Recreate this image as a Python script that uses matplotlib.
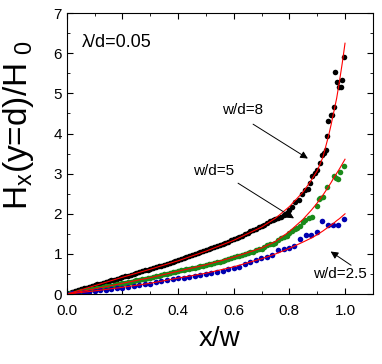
import numpy as np
import matplotlib
matplotlib.use('Agg')
import matplotlib.pyplot as plt
from matplotlib.ticker import MultipleLocator

plt.rcParams['font.family'] = ['Liberation Sans', 'DejaVu Sans']
plt.rcParams['mathtext.fontset'] = 'custom'
plt.rcParams['mathtext.rm'] = 'Liberation Sans'

# measured points, w/d = 8 (black)
x8 = list(np.round(np.arange(0, 0.80, 0.01), 2)) + [
    0.798, 0.81, 0.821, 0.833, 0.845, 0.857, 0.866, 0.873, 0.883, 0.893, 0.899,
    0.909, 0.917, 0.926, 0.931, 0.934, 0.94, 0.948, 0.954, 0.961, 0.965, 0.971,
    0.98, 0.984, 0.99, 0.996]
y8 = [0.02, 0.04, 0.06, 0.08, 0.10, 0.12, 0.14, 0.16, 0.18, 0.20,
      0.22, 0.24, 0.26, 0.28, 0.30, 0.32, 0.34, 0.36, 0.38, 0.40,
      0.42, 0.44, 0.46, 0.48, 0.50, 0.53, 0.55, 0.57, 0.59, 0.61,
      0.63, 0.65, 0.67, 0.69, 0.71, 0.73, 0.76, 0.78, 0.80, 0.83,
      0.85, 0.87, 0.90, 0.92, 0.94, 0.97, 0.99, 1.02, 1.04, 1.07,
      1.09, 1.12, 1.14, 1.17, 1.20, 1.22, 1.25, 1.28, 1.31, 1.34,
      1.37, 1.40, 1.43, 1.46, 1.49, 1.52, 1.56, 1.59, 1.62, 1.66,
      1.70, 1.73, 1.77, 1.81, 1.84, 1.88, 1.89, 1.92, 1.97, 2.03,
      2.09, 2.18, 2.30, 2.34, 2.49, 2.59, 2.63, 2.76, 2.93, 3.01, 3.09,
      3.27, 3.47, 3.51, 3.59, 3.94, 4.31, 4.46, 4.46, 4.67, 5.54, 5.29,
      5.17, 5.17, 5.33, 5.91]

# measured points, w/d = 5 (green)
x5 = list(np.round(np.arange(0, 0.83, 0.01), 2)) + [
    0.827, 0.839, 0.848, 0.857, 0.869, 0.881, 0.899, 0.905, 0.911, 0.922,
    0.937, 0.96, 0.967, 0.974, 0.982, 0.996]
y5 = [0.01, 0.02, 0.03, 0.04, 0.05, 0.07, 0.08, 0.09, 0.10, 0.12,
      0.13, 0.15, 0.16, 0.17, 0.19, 0.20, 0.21, 0.23, 0.24, 0.26,
      0.27, 0.28, 0.30, 0.31, 0.33, 0.34, 0.35, 0.37, 0.38, 0.40,
      0.41, 0.43, 0.44, 0.46, 0.48, 0.49, 0.51, 0.52, 0.54, 0.55,
      0.57, 0.59, 0.60, 0.62, 0.63, 0.65, 0.66, 0.67, 0.69, 0.71,
      0.73, 0.74, 0.76, 0.78, 0.80, 0.81, 0.83, 0.85, 0.88, 0.90,
      0.92, 0.94, 0.96, 0.98, 1.00, 1.02, 1.04, 1.06, 1.10, 1.12,
      1.13, 1.17, 1.22, 1.24, 1.25, 1.28, 1.34, 1.40, 1.43, 1.44,
      1.52, 1.58, 1.62,
      1.64, 1.70, 1.80, 1.85, 1.90, 1.93, 2.19, 2.38, 2.39, 2.43,
      2.67, 2.93, 2.89, 2.87, 3.03, 3.19]

# measured points, w/d = 2.5 (blue)
x25 = list(np.round(np.arange(0, 0.69, 0.02), 2)) + [
    0.698, 0.718, 0.738, 0.759, 0.779, 0.798, 0.818, 0.839, 0.859, 0.879,
    0.899, 0.918, 0.938, 0.958, 0.976, 0.998]
y25 = [0.00, 0.02, 0.03, 0.05, 0.06, 0.07, 0.09, 0.11, 0.13, 0.14,
       0.16, 0.18, 0.20, 0.22, 0.24, 0.26, 0.30, 0.33, 0.35, 0.37,
       0.40, 0.41, 0.43, 0.46, 0.48, 0.50, 0.53, 0.55, 0.58, 0.62,
       0.65, 0.68, 0.74, 0.80, 0.86,
       0.91, 0.93, 0.97, 1.10, 1.13, 1.16, 1.20, 1.38, 1.48, 1.48,
       1.55, 1.81, 1.71, 1.71, 1.71, 1.87]

# theory curves (red)
fit_x = [0, 0.1, 0.2, 0.3, 0.4, 0.5, 0.6, 0.7, 0.75, 0.8, 0.85, 0.88, 0.9,
         0.92, 0.94, 0.95, 0.96, 0.97, 0.98, 0.99, 1.0]
fit8 = [0, 0.21, 0.42, 0.62, 0.83, 1.07, 1.34, 1.67, 1.89, 2.18, 2.55, 2.85,
        3.07, 3.40, 3.92, 4.22, 4.55, 4.88, 5.30, 5.75, 6.25]
fit5 = [0, 0.13, 0.27, 0.41, 0.57, 0.73, 0.92, 1.15, 1.31, 1.56, 1.87, 2.10,
        2.27, 2.46, 2.67, 2.78, 2.90, 3.01, 3.12, 3.24, 3.36]
fit25 = [0, 0.08, 0.17, 0.27, 0.40, 0.52, 0.68, 0.88, 1.00, 1.14, 1.30, 1.40,
         1.48, 1.57, 1.67, 1.72, 1.77, 1.83, 1.88, 1.94, 2.00]

fig = plt.figure(figsize=(3.82, 3.64), dpi=100)
ax = fig.add_axes([0.175, 0.192, 0.801, 0.772])

ax.plot(x8, y8, 'o', color='black', ms=4, mew=0)
ax.plot(x5, y5, 'o', color='#1a8a1a', ms=4, mew=0)
ax.plot(x25, y25, 'o', color='#0000b0', ms=4, mew=0)
for f in (fit8, fit5, fit25):
    ax.plot(fit_x, f, '-', color='red', lw=0.8)

ax.set_xlim(0, 1.1)
ax.set_ylim(0, 7)
ax.xaxis.set_major_locator(MultipleLocator(0.2))
ax.xaxis.set_minor_locator(MultipleLocator(0.1))
ax.yaxis.set_major_locator(MultipleLocator(1))
ax.yaxis.set_minor_locator(MultipleLocator(0.5))
ax.xaxis.set_major_formatter(plt.FormatStrFormatter('%.1f'))
ax.tick_params(which='both', direction='in', top=True, right=True, labelsize=11)
ax.tick_params(axis='x', pad=7)
ax.tick_params(which='major', length=4)
ax.tick_params(which='minor', length=2.5)

ax.set_xlabel('x/w', fontsize=20, labelpad=6)
ax.set_ylabel(r'H$_\mathregular{x}$(y=d)/H$_\mathregular{\ 0}$', fontsize=24)
ax.yaxis.set_label_coords(-0.1, 0.6)

ax.text(0.055, 6.26, 'λ/d=0.05', fontsize=13, va='center')

arrow = dict(arrowstyle='-|>', color='black', lw=0.7, mutation_scale=11)
ax.text(0.633, 4.59, 'w/d=8', fontsize=11, ha='center', va='center')
ax.annotate('', xy=(0.875, 3.34), xytext=(0.661, 4.27), arrowprops=arrow)
ax.text(0.527, 3.07, 'w/d=5', fontsize=11, ha='center', va='center')
ax.annotate('', xy=(0.825, 1.85), xytext=(0.607, 2.80), arrowprops=arrow)
ax.text(0.981, 0.50, 'w/d=2.5', fontsize=11, ha='center', va='center')
ax.annotate('', xy=(0.94, 1.10), xytext=(1.03, 0.68), arrowprops=arrow)

fig.savefig('out.png', dpi=100)
